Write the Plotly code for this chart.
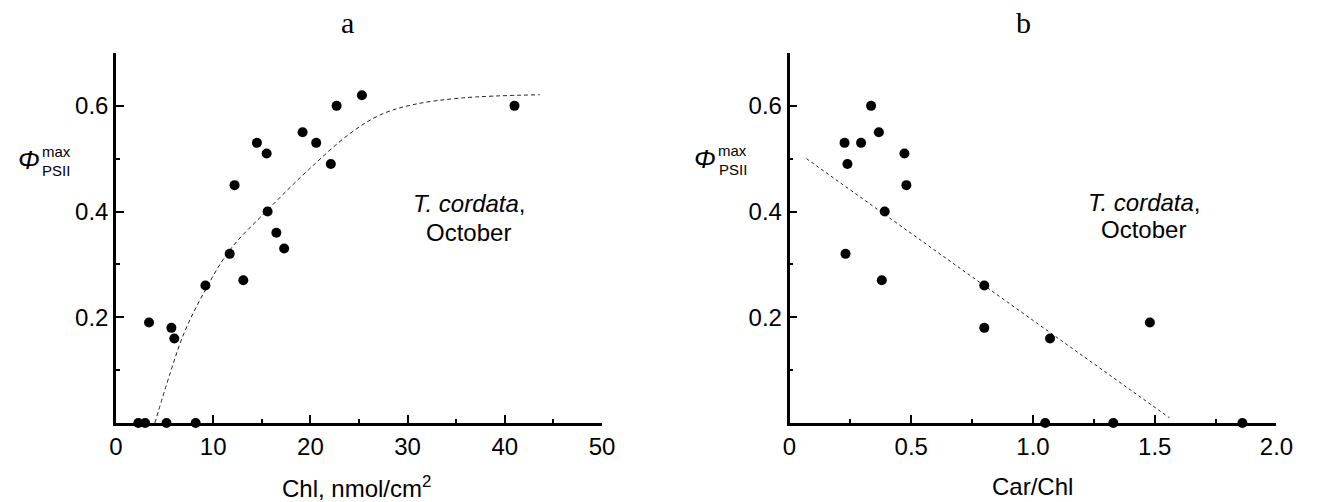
import plotly.graph_objects as go

# ---- data: panel a (Chl vs Phi) ----
chl_x = [2.3, 3.0, 5.2, 8.2, 3.4, 5.7, 6.0, 9.2, 13.1, 11.7, 12.2, 14.5, 15.5, 15.6,
         16.5, 17.3, 19.2, 20.6, 22.1, 22.7, 25.3, 41.0]
chl_y = [0.0, 0.0, 0.0, 0.0, 0.19, 0.18, 0.16, 0.26, 0.27, 0.32, 0.45, 0.53, 0.51, 0.40,
         0.36, 0.33, 0.55, 0.53, 0.49, 0.60, 0.62, 0.60]
fit_a_x = [4.0, 5.5, 7.0, 9.0, 11.7, 15.6, 19.8, 24.1, 27.2, 30.5, 35.6, 43.6]
fit_a_y = [0.0, 0.09, 0.17, 0.245, 0.327, 0.403, 0.479, 0.548, 0.583, 0.602, 0.615, 0.621]

# ---- data: panel b (Car/Chl vs Phi) ----
car_x = [0.226, 0.238, 0.294, 0.335, 0.367, 0.472, 0.48, 0.391, 0.23, 0.379,
         0.80, 0.80, 1.07, 1.48, 1.05, 1.33, 1.86]
car_y = [0.53, 0.49, 0.53, 0.60, 0.55, 0.51, 0.45, 0.40, 0.32, 0.27,
         0.26, 0.18, 0.16, 0.19, 0.0, 0.0, 0.0]
fit_b_x = [0.07, 1.56]
fit_b_y = [0.50, 0.01]

a_ticks = [0, 10, 20, 30, 40, 50]
a_minor = [5, 15, 25, 35, 45]
b_ticks = [0, 0.5, 1.0, 1.5, 2.0]
b_ticklabels = ["0", "0.5", "1.0", "1.5", "2.0"]
b_minor = [0.25, 0.75, 1.25, 1.75]
y_ticks = [0.2, 0.4, 0.6]
y_minor = [0.1, 0.3, 0.5]

W, H = 1320, 502
def px(x):
    return x / W
def py(y):
    return 1 - y / H

FONT = "Liberation Sans, Arial, Helvetica, sans-serif"
SERIF = "Liberation Serif, Times New Roman, serif"

fig = go.Figure()
fig.add_trace(go.Scatter(x=fit_a_x, y=fit_a_y, mode="lines",
                         line=dict(color="#222", width=1, dash="4px,3px", shape="spline"),
                         xaxis="x", yaxis="y", hoverinfo="skip"))
fig.add_trace(go.Scatter(x=chl_x, y=chl_y, mode="markers", marker=dict(color="black", size=10),
                         xaxis="x", yaxis="y", cliponaxis=False))
fig.add_trace(go.Scatter(x=fit_b_x, y=fit_b_y, mode="lines",
                         line=dict(color="#222", width=1, dash="3px,3px"),
                         xaxis="x2", yaxis="y2", hoverinfo="skip"))
fig.add_trace(go.Scatter(x=car_x, y=car_y, mode="markers", marker=dict(color="black", size=10),
                         xaxis="x2", yaxis="y2", cliponaxis=False))

ydom = [py(423), py(53)]
common_x = dict(showgrid=False, zeroline=False, showline=True, linecolor="black", linewidth=2.5,
                ticks="inside", ticklen=8, tickwidth=2, tickcolor="black",
                tickfont=dict(family=FONT, size=24, color="black"))
common_y = dict(showgrid=False, zeroline=False, showline=True, linecolor="black", linewidth=2.5,
                ticks="inside", ticklen=8, tickwidth=2, tickcolor="black",
                tickfont=dict(family=FONT, size=24, color="black"), range=[0, 0.7],
                tickmode="array", tickvals=y_ticks, ticktext=["0.2", "0.4", "0.6"],
                minor=dict(tickmode="array", tickvals=y_minor, ticks="inside", ticklen=4,
                           tickwidth=1.5, tickcolor="black"),
                domain=ydom)

fig.update_layout(
    width=W, height=H, margin=dict(l=0, r=0, t=0, b=0),
    paper_bgcolor="white", plot_bgcolor="white", showlegend=False,
    xaxis=dict(common_x, domain=[px(111), px(606)], range=[0, 50], anchor="y",
               tickmode="array", tickvals=a_ticks, ticktext=[str(t) for t in a_ticks],
               minor=dict(tickmode="array", tickvals=a_minor, ticks="inside", ticklen=4,
                          tickwidth=1.5, tickcolor="black")),
    yaxis=dict(common_y, anchor="x"),
    xaxis2=dict(common_x, domain=[px(797), px(1293)], range=[0, 2.0], anchor="y2",
                tickmode="array", tickvals=b_ticks, ticktext=b_ticklabels,
                minor=dict(tickmode="array", tickvals=b_minor, ticks="inside", ticklen=4,
                           tickwidth=1.5, tickcolor="black")),
    yaxis2=dict(common_y, anchor="x2"),
)

ann = []
def add(text, x, y, size=24, family=FONT, yanchor="middle"):
    ann.append(dict(text=text, x=px(x), y=py(y), xref="paper", yref="paper", showarrow=False,
                    xanchor="center", yanchor=yanchor, borderpad=0,
                    font=dict(family=family, size=size, color="black")))

add("a", 347, 23, size=30, family=SERIF)
add("b", 1035, 23, size=30, family=SERIF)
add("Chl, nmol/cm<sup>2</sup>", 356, 487)
add("Car/Chl", 1044, 486)
add("<i>T. cordata</i>,", 471, 203)
add("October", 470, 232)
add("<i>T. cordata</i>,", 1159, 202)
add("October", 1158, 229)
# y-axis labels: Phi with stacked sup/sub
for (xp, xs, yc) in [(22.5, 50, 160), (711, 739, 159)]:
    add("<i>Φ</i>", xp, yc, size=26)
    add("max", xs, yc + 1, size=15, yanchor="bottom")
    add("PSII", xs, yc + 1, size=15, yanchor="top")

fig.update_layout(annotations=ann)
fig.write_html("out.html", config={"displayModeBar": False},
               post_script="document.body.style.margin='0';document.body.style.overflow='hidden';")
